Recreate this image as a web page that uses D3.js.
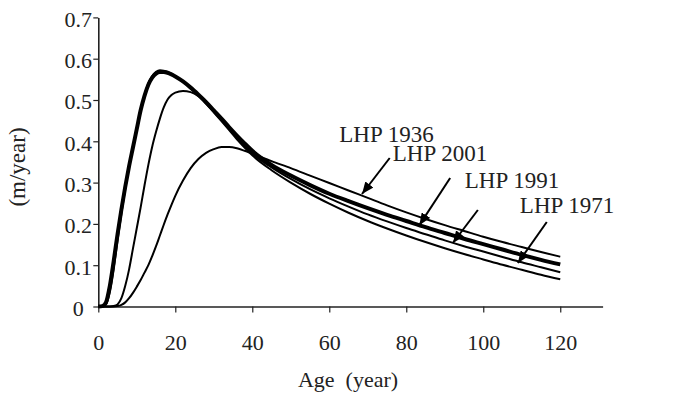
<!DOCTYPE html>
<html>
<head>
<meta charset="utf-8">
<script src="https://cdn.jsdelivr.net/npm/d3@7"></script>
<style>
  html, body { margin: 0; padding: 0; background: #fff; }
</style>
</head>
<body>
<svg id="chart" width="674" height="396"></svg>
<script>
// Ages (years) at which each growth curve is sampled
const ages = [0,1,2,3,4,5,6,7,8,9,10,11,12,13,14,15,16,17,18,19,20,
              22,24,26,28,30,32,34,36,38,40,
              45,50,55,60,65,70,75,80,85,90,95,100,105,110,115,120];

// Height increment (m/year) for each site-index table
const lhp1936 = [0,0,0,0,0,0.001,0.004,0.01,0.02,0.033,0.048,0.064,0.082,0.1,0.122,0.146,0.172,0.198,0.223,0.246,0.268,
                 0.305,0.335,0.357,0.372,0.381,0.386,0.386,0.383,0.377,0.37,
                 0.352,0.335,0.317,0.299,0.281,0.263,0.245,0.228,0.212,0.197,0.183,0.169,0.156,0.144,0.132,0.1206];
const lhp1971 = [0,0,0.005,0.035,0.09,0.16,0.225,0.285,0.338,0.385,0.43,0.475,0.512,0.54,0.558,0.568,0.572,0.571,0.568,0.563,0.557,
                 0.544,0.528,0.51,0.491,0.47,0.449,0.427,0.405,0.385,0.366,
                 0.33,0.3,0.273,0.249,0.227,0.207,0.189,0.172,0.156,0.141,0.127,0.114,0.101,0.089,0.077,0.066];
const lhp1991 = [0,0,0,0,0.001,0.005,0.02,0.05,0.09,0.14,0.19,0.24,0.293,0.343,0.387,0.423,0.455,0.482,0.501,0.512,0.518,
                 0.522,0.519,0.509,0.492,0.472,0.451,0.43,0.409,0.389,0.37,
                 0.337,0.309,0.284,0.262,0.242,0.223,0.206,0.19,0.175,0.16,0.146,0.133,0.12,0.107,0.095,0.083];
const lhp2001 = [0,0.001,0.01,0.05,0.11,0.175,0.235,0.29,0.34,0.385,0.43,0.475,0.51,0.537,0.554,0.564,0.568,0.568,0.566,0.562,0.557,
                 0.545,0.53,0.513,0.495,0.475,0.455,0.434,0.414,0.395,0.377,
                 0.343,0.317,0.294,0.273,0.255,0.238,0.222,0.207,0.192,0.178,0.164,0.151,0.138,0.125,0.113,0.102];

const seriesNames = ["LHP 1936", "LHP 1971", "LHP 1991", "LHP 2001"];
const seriesValues = [lhp1936, lhp1971, lhp1991, lhp2001];
const seriesWidths = [2, 2, 2, 4];

// Axis ticks
const xTicks = [0, 20, 40, 60, 80, 100, 120];
const yTicks = [0, 0.1, 0.2, 0.3, 0.4, 0.5, 0.6, 0.7];

// Callouts: label anchor, arrow start and arrow tip, in data units (age, m/year)
const noteLabels = ["LHP 1936", "LHP 2001", "LHP 1991", "LHP 1971"];
const noteTextAge = [62.6, 76.5, 95.2, 109.5];
const noteTextVal = [0.398, 0.3523, 0.287, 0.2264];
const noteFromAge = [75.7, 91.4, 98.6, 116.5];
const noteFromVal = [0.3596, 0.311, 0.2337, 0.2046];
const noteToAge = [68.5, 83.4, 92.1, 109.0];
const noteToVal = [0.2724, 0.197, 0.1538, 0.1053];

const FONT = '"Liberation Serif"';

const svg = d3.select("#chart");
const x = d3.scaleLinear().domain([0, 131]).range([98.3, 602.6]);
const y = d3.scaleLinear().domain([0, 0.7]).range([306.5, 17.4]);

// Arrowhead marker
svg.append("defs").append("marker")
  .attr("id", "head")
  .attr("viewBox", "0 0 12 10")
  .attr("refX", 12).attr("refY", 5)
  .attr("markerWidth", 12).attr("markerHeight", 10)
  .attr("markerUnits", "userSpaceOnUse")
  .attr("orient", "auto")
  .append("path").attr("d", "M0,0 L12,5 L0,10 Z").attr("fill", "#000");

// Y axis
const yAxis = svg.append("g")
  .attr("transform", `translate(${x(0)},0)`)
  .call(d3.axisLeft(y).tickValues(yTicks).tickSize(5).tickSizeOuter(0)
        .tickFormat(d => d === 0 ? "0" : d.toFixed(1)));
yAxis.select(".domain").attr("stroke", "#222").attr("stroke-width", 1.6);
yAxis.selectAll(".tick line").attr("stroke", "#222").attr("stroke-width", 1.2);
yAxis.selectAll(".tick text")
  .attr("x", -20).attr("dy", "0.4em")
  .attr("text-anchor", "middle")
  .attr("fill", "#222")
  .style("font-family", FONT).style("font-size", "22px");

// X axis
const xAxis = svg.append("g")
  .attr("transform", `translate(0,${y(0)})`)
  .call(d3.axisBottom(x).tickValues(xTicks).tickSize(6).tickSizeOuter(0));
xAxis.select(".domain").attr("stroke", "#222").attr("stroke-width", 1.6);
xAxis.selectAll(".tick line").attr("stroke", "#222").attr("stroke-width", 1.2);
xAxis.selectAll(".tick text")
  .attr("y", 43.5).attr("dy", 0)
  .attr("fill", "#222")
  .style("font-family", FONT).style("font-size", "22px");

// Axis titles
svg.append("text")
  .attr("x", 348).attr("y", 386.5)
  .attr("text-anchor", "middle")
  .attr("fill", "#222")
  .style("font-family", FONT).style("font-size", "22px")
  .style("white-space", "pre")
  .text("Age  (year)");
svg.append("text")
  .attr("transform", "translate(25,167) rotate(-90)")
  .attr("text-anchor", "middle")
  .attr("fill", "#222")
  .style("font-family", FONT).style("font-size", "23px")
  .text("(m/year)");

// Growth curves
const line = d3.line()
  .x((d, i) => x(ages[i]))
  .y(d => y(d))
  .curve(d3.curveMonotoneX);

svg.append("g").selectAll("path")
  .data(seriesValues)
  .join("path")
  .attr("d", d => line(d))
  .attr("fill", "none")
  .attr("stroke", "#000")
  .attr("stroke-width", (d, i) => seriesWidths[i])
  .attr("stroke-linejoin", "round");

// Callout labels and arrows
const notes = svg.append("g");
noteLabels.forEach((label, i) => {
  notes.append("text")
    .attr("x", x(noteTextAge[i])).attr("y", y(noteTextVal[i]))
    .attr("fill", "#222")
    .style("font-family", FONT).style("font-size", "23px")
    .text(label);
  notes.append("line")
    .attr("x1", x(noteFromAge[i])).attr("y1", y(noteFromVal[i]))
    .attr("x2", x(noteToAge[i])).attr("y2", y(noteToVal[i]))
    .attr("stroke", "#000").attr("stroke-width", 2)
    .attr("marker-end", "url(#head)");
});
</script>
</body>
</html>
